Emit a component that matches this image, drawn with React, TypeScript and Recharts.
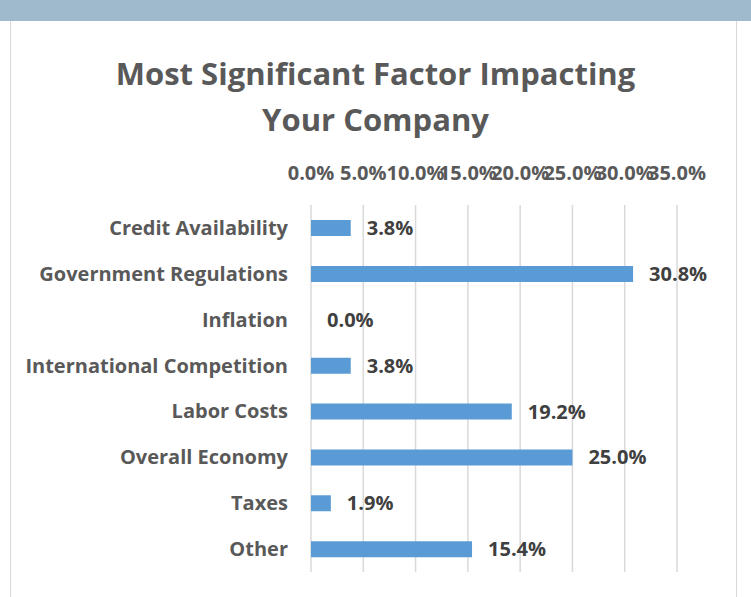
import { Bar, BarChart, CartesianGrid, LabelList, XAxis, YAxis } from "recharts"

const categories = [
  "Credit Availability",
  "Government Regulations",
  "Inflation",
  "International Competition",
  "Labor Costs",
  "Overall Economy",
  "Taxes",
  "Other",
]
const shares = [0.038, 0.308, 0.0, 0.038, 0.192, 0.25, 0.019, 0.154]
const ticks = [0, 0.05, 0.1, 0.15, 0.2, 0.25, 0.3, 0.35]

const data = categories.map((name, i) => ({ name, value: shares[i] }))

const font = "'Open Sans', sans-serif"
const pct = (v: number) => `${(v * 100).toFixed(1)}%`

const XTick = (props: any) => {
  const { x, payload } = props
  return (
    <text x={x} y={180} textAnchor="middle" fill="#595959" fontSize={20} fontWeight={700} fontFamily={font}>
      {pct(payload.value)}
    </text>
  )
}

const YTick = (props: any) => {
  const { x, y, payload } = props
  return (
    <text x={x - 15} y={y} dy={7} textAnchor="end" fill="#595959" fontSize={20} fontWeight={700} fontFamily={font}>
      {payload.value}
    </text>
  )
}

export default function App() {
  return (
    <div style={{ position: "absolute", left: 0, top: 0, width: 751, height: 597, background: "#fff", overflow: "hidden" }}>
      <div style={{ position: "absolute", left: 0, top: 0, width: 751, height: 21, background: "#9fb9cd" }} />
      <div style={{ position: "absolute", left: 10, top: 21, width: 1, height: 576, background: "#d9d9d9" }} />
      <div style={{ position: "absolute", left: 736, top: 21, width: 1, height: 576, background: "#d9d9d9" }} />
      <div
        style={{
          position: "absolute",
          left: 0,
          top: 50,
          width: 751,
          textAlign: "center",
          fontFamily: font,
          fontWeight: 700,
          fontSize: 31,
          lineHeight: "46px",
          color: "#595959",
        }}
      >
        Most Significant Factor Impacting
        <br />
        Your Company
      </div>
      <div style={{ position: "absolute", left: 0, top: 0 }}>
        <BarChart
          width={751}
          height={597}
          data={data}
          layout="vertical"
          margin={{ top: 175, right: 74, bottom: 25, left: 0 }}
          barCategoryGap={15}
        >
          <CartesianGrid horizontal={false} stroke="#d9d9d9" strokeWidth={1.5} />
          <XAxis
            type="number"
            orientation="top"
            domain={[0, 0.35]}
            ticks={ticks}
            tick={<XTick />}
            tickLine={false}
            axisLine={false}
            height={30}
            interval={0}
          />
          <YAxis
            type="category"
            dataKey="name"
            width={311}
            tick={<YTick />}
            tickLine={false}
            axisLine={false}
            interval={0}
          />
          <Bar dataKey="value" fill="#5b9bd5" barSize={16} minPointSize={0.01} isAnimationActive={false}>
            <LabelList
              dataKey="value"
              position="right"
              offset={16}
              formatter={(v: any) => pct(Number(v))}
              fill="#404040"
              fontSize={20}
              fontWeight={700}
              fontFamily={font}
            />
          </Bar>
        </BarChart>
      </div>
    </div>
  )
}
